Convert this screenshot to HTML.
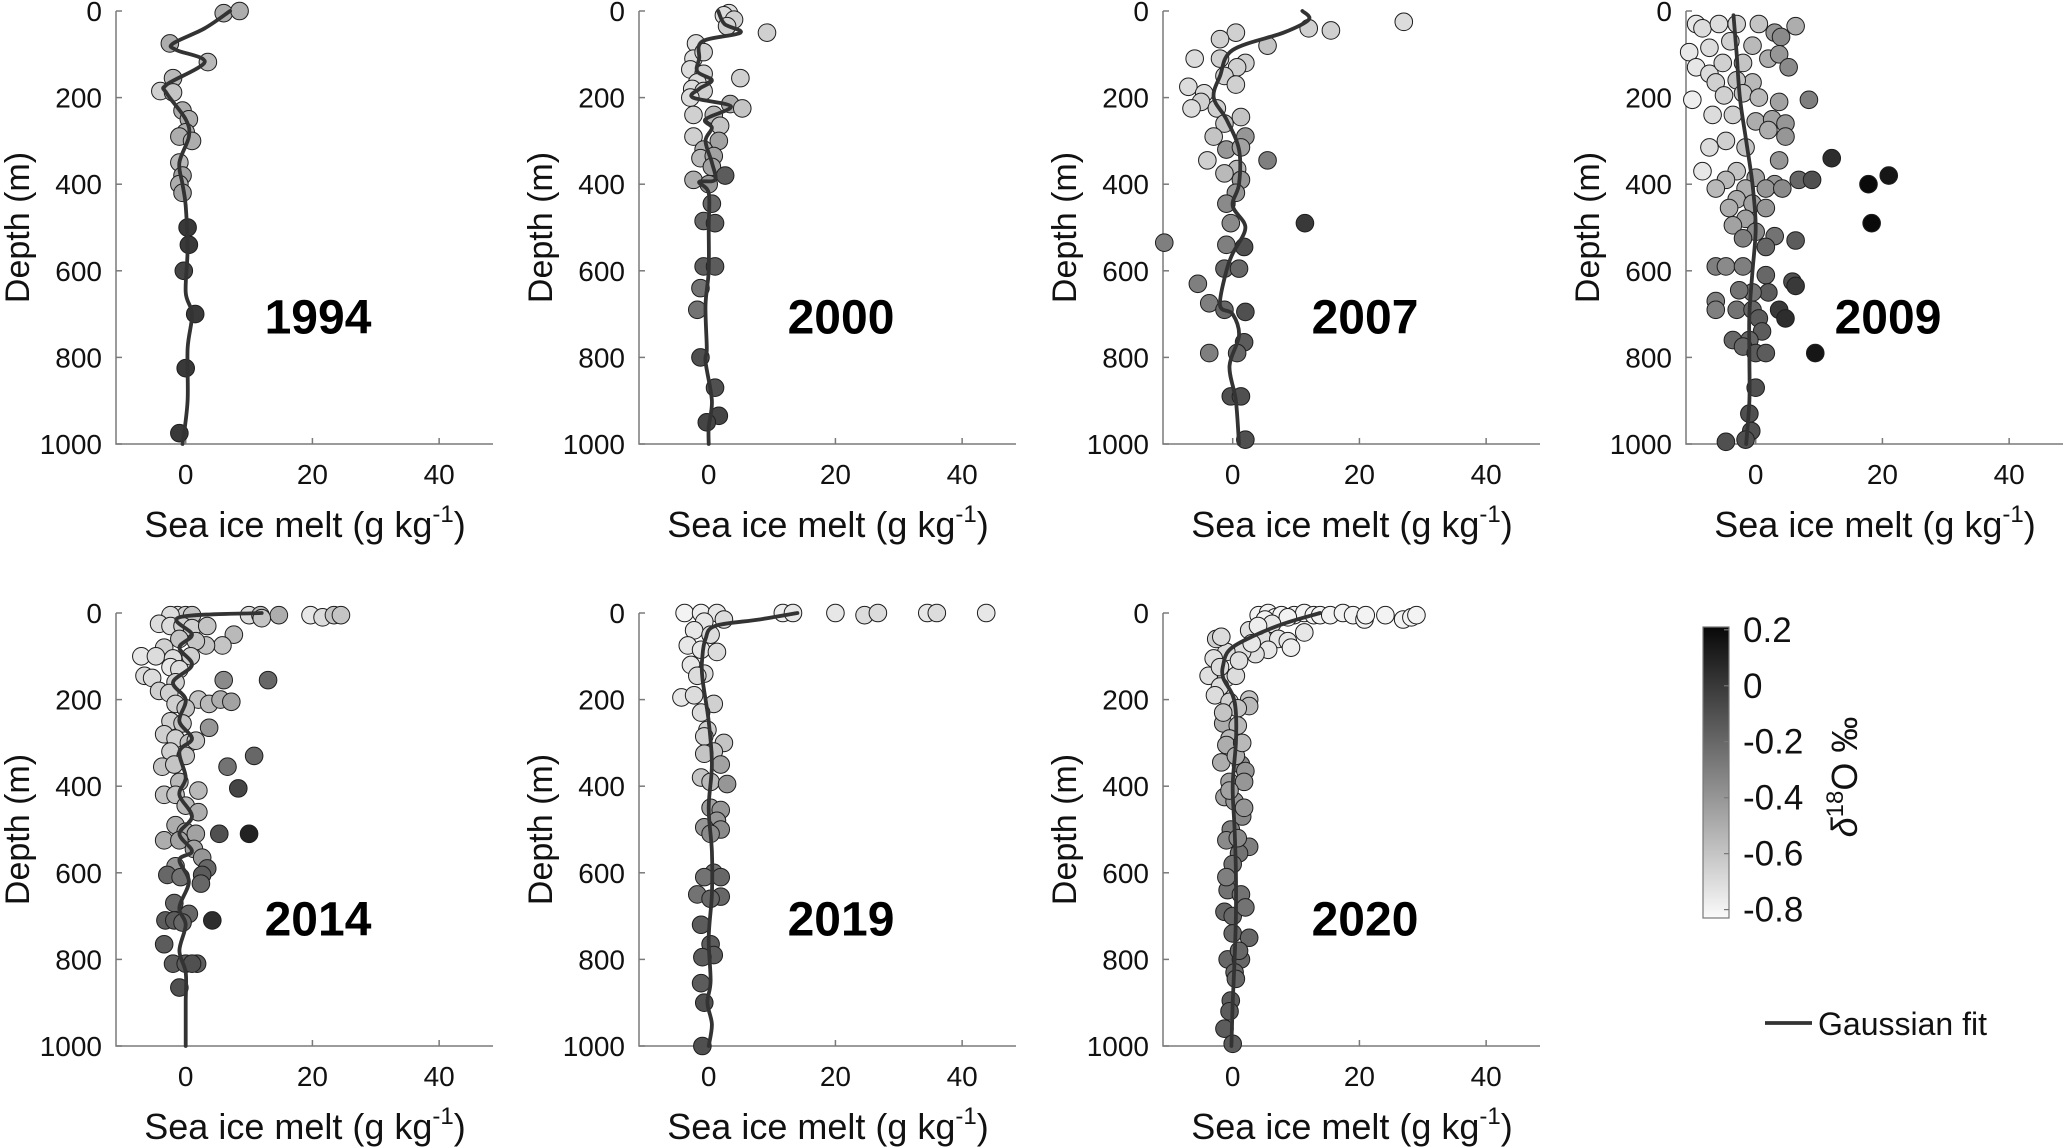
<!DOCTYPE html>
<html><head><meta charset="utf-8"><style>
html,body{margin:0;padding:0;background:#fff}
svg{display:block;font-family:"Liberation Sans",Arial,sans-serif}
</style></head><body>
<svg id="fig" width="2067" height="1147" viewBox="0 0 2067 1147" xmlns="http://www.w3.org/2000/svg"></svg>
<script>
// ---------- data ----------
const years = ["1994","2000","2007","2009","2014","2019","2020"];
const xTicks = [0,20,40];
const yTicks = [0,200,400,600,800,1000];
const cbTicks = [0.2,0,-0.2,-0.4,-0.6,-0.8];
const cbTickLabels = ["0.2","0","-0.2","-0.4","-0.6","-0.8"];

const melt_1994 = [6,8.5,-2.5,3.5,-2,-4,-2,-0.5,0.5,0,-1,1,-1,-0.5,-1,-0.5,0.3,0.5,-0.3,1.5,0,-1];
const depth_1994 = [5,0,75,118,155,185,188,230,250,280,290,300,350,380,400,420,500,540,600,700,825,975];
const d18o_1994 = [-0.5,-0.5,-0.5,-0.55,-0.55,-0.65,-0.6,-0.5,-0.5,-0.5,-0.5,-0.5,-0.55,-0.45,-0.5,-0.45,0,0,-0.05,0,0,0];
const fitMelt_1994 = [7,3,-2,-1.5,3,-3,-3,0,0.5,-1,-0.5,0,0.3,0,1,0.3,0.3,-0.5];
const fitDepth_1994 = [0,40,75,90,118,170,190,250,290,350,400,450,550,650,700,780,900,1000];

const melt_2000 = [3.2,2.4,4,2.9,9.2,-2,-2.4,-0.8,-2.9,-0.8,5,-1.8,-2.6,-0.8,-2.9,3.4,5.3,-2.4,0.8,1.8,-2.4,1.6,-0.8,-1.3,0.8,0.5,2.6,-2.4,0,0.5,-0.8,1,-0.8,1,-1.3,-1.8,-1.3,1,1.6,-0.3];
const depth_2000 = [5,10,20,35,50,75,110,95,135,145,155,165,180,185,200,215,225,240,240,265,290,300,320,340,335,360,380,390,400,445,485,490,590,590,640,690,800,870,935,950];
const d18o_2000 = [-0.7,-0.7,-0.65,-0.65,-0.65,-0.7,-0.7,-0.65,-0.7,-0.65,-0.65,-0.7,-0.7,-0.65,-0.7,-0.5,-0.6,-0.65,-0.55,-0.6,-0.65,-0.45,-0.5,-0.55,-0.45,-0.45,-0.15,-0.5,-0.4,-0.2,-0.2,-0.15,-0.15,-0.15,-0.25,-0.25,-0.1,-0.1,-0.05,-0.05];
const fitMelt_2000 = [1.5,2.5,5,-1,-1.5,-1.8,0.5,-1.5,-2.5,3.5,-0.5,0.5,-0.5,0.5,1,-1.5,0,0,0,-0.5,-0.3,-0.5,0.5,0,0];
const fitDepth_2000 = [0,30,50,70,110,140,160,180,200,220,250,270,300,350,390,395,420,500,600,680,780,810,900,960,1000];

const melt_2007 = [27,12,15.5,0.5,-2,5.5,-6,-2,2,0.7,-1.3,0.5,-7,-4.5,-5,-6.5,-2.5,1.3,-1.3,-3,2,-1,1.3,-4,5.5,0.7,-1.3,1.3,0.5,-1,11.4,-0.3,-10.8,-1,1.8,-1.3,1,-5.5,-3.7,-1.3,2,1.8,0.7,-3.7,-0.3,1.3,2];
const depth_2007 = [25,40,45,50,65,80,110,110,120,130,150,170,175,190,210,225,225,245,260,290,290,320,315,345,345,365,375,390,420,445,490,490,535,540,545,595,595,630,675,690,695,765,790,790,890,890,990];
const d18o_2007 = [-0.7,-0.65,-0.65,-0.65,-0.65,-0.6,-0.7,-0.65,-0.65,-0.65,-0.65,-0.65,-0.7,-0.7,-0.65,-0.7,-0.65,-0.6,-0.6,-0.6,-0.4,-0.4,-0.45,-0.65,-0.3,-0.55,-0.55,-0.4,-0.4,-0.35,0,-0.35,-0.3,-0.3,-0.1,-0.2,-0.2,-0.3,-0.3,-0.2,-0.1,-0.15,-0.2,-0.3,-0.1,-0.1,-0.1];
const fitMelt_2007 = [11,12,8,0,-2,-3,-1,1,1,0,2,0,-1,-2,0,1,-0.5,0.5,1];
const fitDepth_2007 = [0,20,50,90,150,200,250,320,400,450,500,560,600,680,700,750,820,900,1000];

const melt_2009 = [-9.4,-8.4,-5.8,-3,0.5,6.3,3,4,-10.5,-7.3,-4,-0.5,2,3.7,5.2,-9.4,-7.3,-5.2,-2,-0.5,-6.3,-3,-10,-5,-2,0.5,3.7,8.4,-6.8,-3.6,0,2.6,4.7,2,4.7,-4.7,-7.3,-1.6,3.7,12,-8.4,-3,-4.7,0,3,6.8,8.9,21,17.8,18.3,-6.3,-1.6,1.6,4.2,-3,-0.5,-4.2,1.6,-1.6,-3.6,0,3,6.3,-2,1.6,-6.3,-4.7,-2,1.6,5.8,6.3,2,-0.5,-2.6,-6.3,-6.3,-3,-0.5,3.7,4.7,0.5,1,-3.6,-1,-2,0,1.6,9.4,0,-1,-0.7,-1.6,-4.7];
const depth_2009 = [30,40,30,30,30,35,50,60,95,85,70,80,110,100,130,130,145,120,120,165,165,160,205,195,190,200,210,205,240,240,255,250,260,275,290,300,315,315,345,340,370,370,390,385,400,390,390,380,400,490,410,410,410,410,435,445,455,455,480,495,510,520,530,525,545,590,590,590,610,625,635,650,650,645,670,690,690,690,690,710,710,740,760,760,775,790,790,790,870,930,970,990,995];
const d18o_2009 = [-0.75,-0.7,-0.7,-0.65,-0.6,-0.5,-0.4,-0.35,-0.75,-0.7,-0.65,-0.55,-0.5,-0.4,-0.35,-0.75,-0.7,-0.65,-0.6,-0.55,-0.65,-0.6,-0.78,-0.65,-0.6,-0.55,-0.45,-0.3,-0.7,-0.65,-0.5,-0.45,-0.4,-0.5,-0.4,-0.65,-0.7,-0.6,-0.4,0.05,-0.75,-0.6,-0.55,-0.45,-0.4,-0.2,-0.1,0.15,0.2,0.2,-0.55,-0.5,-0.4,-0.35,-0.5,-0.45,-0.5,-0.4,-0.45,-0.45,-0.35,-0.25,-0.15,-0.3,-0.2,-0.3,-0.35,-0.3,-0.2,-0.1,0,-0.15,-0.25,-0.25,-0.3,-0.3,-0.25,-0.2,0,0.05,-0.15,-0.15,-0.2,-0.2,-0.2,-0.15,-0.15,0.15,-0.1,-0.1,-0.1,-0.1,-0.1];
const fitMelt_2009 = [-3.5,-3,-2.5,-1.5,-0.5,0,-0.5,-1,-1,-1,-1.5];
const fitDepth_2009 = [10,100,200,300,400,500,600,700,800,900,1000];

const melt_2014 = [-1.3,0,1,-2.4,10,11.8,14.7,19.7,21.6,23.4,24.5,12,-4.2,-2.4,-0.5,1,3.4,7.6,5.8,3.2,-1,1.6,-3.4,-7,-4.7,-2,0.8,-2.4,-1,-6.5,-5.3,6,13,-1.6,-4.2,-2.6,2,3.7,5.5,7.2,-1.6,0,-2.4,-0.5,3.7,-3.4,-1.6,0.5,1.6,-2.4,0,10.8,-3.7,-1.8,6.6,-1,2,8.3,-3.4,-1.6,0,2,-1.6,0,1.6,5.3,10,-3.4,-1,1.3,2.6,-1.6,3.4,-2.9,-0.8,2.6,2.4,-1.8,0.5,-3.2,-1.8,-0.5,4.2,-3.4,-2,0,1.8,1,-1];
const depth_2014 = [5,5,5,5,5,5,5,5,10,5,5,12,25,30,30,35,30,50,75,75,60,65,80,100,100,105,100,125,130,145,150,155,155,160,180,185,200,210,200,205,210,220,250,255,265,280,290,300,295,320,330,330,355,350,355,390,410,405,420,420,445,460,490,505,510,510,510,525,525,545,565,585,590,605,610,605,625,670,695,710,710,715,710,765,810,810,810,810,865];
const d18o_2014 = [-0.7,-0.65,-0.6,-0.7,-0.7,-0.55,-0.5,-0.75,-0.7,-0.6,-0.6,-0.6,-0.7,-0.7,-0.65,-0.65,-0.6,-0.55,-0.6,-0.6,-0.6,-0.6,-0.65,-0.75,-0.7,-0.7,-0.65,-0.75,-0.7,-0.7,-0.7,-0.35,-0.2,-0.65,-0.65,-0.65,-0.6,-0.55,-0.5,-0.45,-0.65,-0.6,-0.65,-0.6,-0.4,-0.65,-0.65,-0.6,-0.6,-0.65,-0.6,-0.2,-0.6,-0.6,-0.25,-0.55,-0.55,-0.05,-0.6,-0.6,-0.55,-0.5,-0.5,-0.5,-0.45,-0.1,0.1,-0.5,-0.45,-0.45,-0.4,-0.4,-0.2,-0.2,-0.25,-0.15,-0.2,-0.2,-0.2,-0.15,-0.15,-0.2,0.05,-0.15,-0.15,-0.15,-0.15,-0.1,-0.1];
const fitMelt_2014 = [12,-1,1,-1,1,-2,0,-1,1,-1,0,-1,1,-1,1,-1,0.5,-1,0,-1,0,0,0];
const fitDepth_2014 = [0,10,50,80,120,160,200,250,290,320,380,420,470,510,550,570,620,680,720,780,830,900,1000];

const melt_2019 = [-3.8,-1.2,1.3,11.7,13.3,20,24.6,26.7,34.5,36,43.8,2.4,-0.7,-2.3,0.3,-3.3,-1.2,1.3,-2.8,-0.7,-1.8,-4.3,-2.3,0.8,-1.2,-0.2,-0.7,2.4,0.8,-0.7,1.9,-1.2,0.3,2.9,0.3,1.9,1.3,-0.7,1.9,0.3,0.8,1.9,-0.7,-1.8,1.9,0.3,-1.2,0.3,0.8,-1,-1.2,-0.7,-1];
const depth_2019 = [0,0,0,0,0,0,5,0,0,0,0,15,20,40,50,75,85,90,120,140,145,195,190,210,230,270,285,300,320,325,350,380,390,395,450,455,480,495,500,510,600,610,610,650,655,660,720,765,790,795,855,900,1000];
const d18o_2019 = [-0.8,-0.78,-0.75,-0.78,-0.75,-0.75,-0.7,-0.7,-0.75,-0.7,-0.75,-0.7,-0.75,-0.75,-0.7,-0.75,-0.75,-0.7,-0.75,-0.7,-0.7,-0.75,-0.7,-0.65,-0.7,-0.65,-0.65,-0.6,-0.6,-0.6,-0.45,-0.6,-0.55,-0.4,-0.45,-0.4,-0.4,-0.4,-0.35,-0.35,-0.25,-0.2,-0.25,-0.25,-0.2,-0.2,-0.15,-0.15,-0.15,-0.15,-0.15,-0.1,-0.1];
const fitMelt_2019 = [14,8,1,-0.5,-1,-1,0,0.5,0,0.5,0.5,0,0.3,-0.2,0.5,0];
const fitDepth_2019 = [0,15,30,60,100,150,250,350,450,550,650,750,850,900,950,1000];

const melt_2020 = [4.1,5.6,6.7,7.7,9.7,11.3,12.8,13.8,15.4,17.4,19,20.8,21,24.1,26.9,28.2,29,5.1,8.7,2.6,6.2,4.6,7.2,8.7,11.3,9.2,5.6,3.6,1.5,-1,-2.6,-1.8,-3,-3.8,-1,0.5,-2,-2.8,-0.5,2.6,2.6,0.8,-1.5,0.8,-0.5,-1,-1.8,1.3,2,-0.5,1.8,-1.3,0.3,1.5,-0.3,-1,2.6,1,0,-0.8,1.3,-1.3,0,0,2.6,-0.8,1.3,0.3,0.5,-0.3,-0.5,-1.3,0,3,1,-2,4,-1.5,0.5,1.5,-0.5,1.8,0.8,-1,2,1];
const depth_2020 = [5,0,10,5,5,0,5,5,5,0,5,15,5,5,15,10,5,15,10,40,25,55,60,65,45,80,85,95,90,90,60,55,105,145,150,145,170,190,205,200,215,220,255,260,290,305,345,350,365,390,390,425,435,470,500,525,540,555,580,640,650,690,700,740,750,800,800,830,845,895,920,960,995,70,110,125,30,230,330,300,410,450,520,610,680,780];
const d18o_2020 = [-0.8,-0.8,-0.8,-0.8,-0.8,-0.8,-0.8,-0.8,-0.8,-0.8,-0.8,-0.8,-0.8,-0.8,-0.8,-0.8,-0.8,-0.8,-0.8,-0.72,-0.75,-0.72,-0.75,-0.75,-0.75,-0.78,-0.75,-0.72,-0.72,-0.7,-0.65,-0.7,-0.72,-0.72,-0.72,-0.7,-0.7,-0.7,-0.65,-0.6,-0.55,-0.6,-0.5,-0.55,-0.55,-0.5,-0.5,-0.35,-0.4,-0.45,-0.4,-0.45,-0.4,-0.35,-0.3,-0.35,-0.3,-0.25,-0.25,-0.25,-0.25,-0.2,-0.2,-0.2,-0.2,-0.2,-0.2,-0.2,-0.2,-0.15,-0.15,-0.15,-0.15,-0.75,-0.72,-0.7,-0.78,-0.6,-0.5,-0.55,-0.45,-0.4,-0.35,-0.3,-0.25,-0.2];
const fitMelt_2020 = [13.8,8,3,-0.5,-1.5,-1.5,0,0.5,0.5,0,0.3,0.5,0.5,0.3,0,-0.2];
const fitDepth_2020 = [0,25,55,85,120,150,190,230,300,400,500,600,700,800,900,1000];

const panelData = [
  [melt_1994,depth_1994,d18o_1994,fitMelt_1994,fitDepth_1994],
  [melt_2000,depth_2000,d18o_2000,fitMelt_2000,fitDepth_2000],
  [melt_2007,depth_2007,d18o_2007,fitMelt_2007,fitDepth_2007],
  [melt_2009,depth_2009,d18o_2009,fitMelt_2009,fitDepth_2009],
  [melt_2014,depth_2014,d18o_2014,fitMelt_2014,fitDepth_2014],
  [melt_2019,depth_2019,d18o_2019,fitMelt_2019,fitDepth_2019],
  [melt_2020,depth_2020,d18o_2020,fitMelt_2020,fitDepth_2020]
];

// ---------- layout ----------
const NS = "http://www.w3.org/2000/svg";
const svg = document.getElementById("fig");
const colLeft = [116, 639, 1163, 1686];
const rowTop = [11, 613];
const AW = 377, AH = 433;
const XMIN = -11, XMAX = 48.5, CMIN = -0.83, CMAX = 0.21;

function el(tag, attrs, parent, text){
  const e = document.createElementNS(NS, tag);
  for (const k in attrs) e.setAttribute(k, attrs[k]);
  if (text !== undefined) e.textContent = text;
  (parent || svg).appendChild(e);
  return e;
}
function grayOf(v){
  let t = (v - CMIN) / (CMAX - CMIN);
  t = Math.max(0, Math.min(1, t));
  const g = Math.round(250 - t * 242);
  return `rgb(${g},${g},${g})`;
}
function smoothPath(P){
  let d = `M${P[0][0].toFixed(1)},${P[0][1].toFixed(1)}`;
  for (let i = 0; i < P.length - 1; i++){
    const p0 = P[Math.max(0,i-1)], p1 = P[i], p2 = P[i+1], p3 = P[Math.min(P.length-1,i+2)];
    const c1x = p1[0] + (p2[0]-p0[0])/6, c1y = p1[1] + (p2[1]-p0[1])/6;
    const c2x = p2[0] - (p3[0]-p1[0])/6, c2y = p2[1] - (p3[1]-p1[1])/6;
    d += `C${c1x.toFixed(1)},${c1y.toFixed(1)} ${c2x.toFixed(1)},${c2y.toFixed(1)} ${p2[0].toFixed(1)},${p2[1].toFixed(1)}`;
  }
  return d;
}

years.forEach((yr, i) => {
  const L = colLeft[i % 4], T = rowTop[Math.floor(i / 4)];
  const sx = v => L + (v - XMIN) / (XMAX - XMIN) * AW;
  const sy = d => T + d / 1000 * AH;
  const g = el("g", {});
  
  

  const ax = el("path", {d:`M${L},${T}V${T+AH}H${L+AW}`, fill:"none", stroke:"#7a7a7a", "stroke-width":"1.5"}, g);
  
  
  yTicks.forEach(t => {
    el("line", {x1:L, x2:L+6, y1:sy(t), y2:sy(t), stroke:"#7a7a7a", "stroke-width":"1.5"}, g);
    const lb = el("text", {x:L-14, y:sy(t)+10, "text-anchor":"end", "font-size":"28", fill:"#111"}, g, String(t));
    
    
  });
  xTicks.forEach(t => {
    el("line", {x1:sx(t), x2:sx(t), y1:T+AH, y2:T+AH-6, stroke:"#7a7a7a", "stroke-width":"1.5"}, g);
    const lb = el("text", {x:sx(t), y:T+AH+40, "text-anchor":"middle", "font-size":"28", fill:"#111"}, g, String(t));
    
    
  });
  const xl = el("text", {x:L+189, y:T+AH+93, "text-anchor":"middle", "font-size":"36", fill:"#111"}, g);
  
  
  el("tspan", {}, xl, "Sea ice melt (g kg");
  el("tspan", {dy:"-15", "font-size":"24"}, xl, "-1");
  el("tspan", {dy:"15"}, xl, ")");
  const yl = el("text", {x:0, y:0, "text-anchor":"middle", "font-size":"34", fill:"#111",
    transform:`translate(${L-87},${T+AH/2}) rotate(-90)`}, g, "Depth (m)");
  
  

  const [mx, dp, c, fm, fd] = panelData[i];
  mx.forEach((v, k) => {
    const p = el("circle", {cx:sx(v), cy:sy(dp[k]), r:"8.8", fill:grayOf(c[k]), stroke:"#1e1e1e", "stroke-width":"1"}, g);
    
    
  });
  const P = fm.map((v, k) => [sx(v), sy(fd[k])]);
  const fl = el("path", {d:smoothPath(P), fill:"none", stroke:"#333", "stroke-width":"3.8", "stroke-linejoin":"round", "stroke-linecap":"round"}, g);
  
  

  const yt = el("text", {x:L+202, y:T+AH*0.705+17, "text-anchor":"middle", "font-size":"48", "font-weight":"bold", fill:"#000"}, g, yr);
  
  
});

// ---------- colorbar ----------
const CB = {x:1703, y:627, w:26, h:291};
const defs = el("defs", {});
const lg = el("linearGradient", {id:"cbg", x1:"0", y1:"1", x2:"0", y2:"0"}, defs);
el("stop", {offset:"0", "stop-color":grayOf(CMIN)}, lg);
el("stop", {offset:"1", "stop-color":grayOf(CMAX)}, lg);
const cbr = el("rect", {x:CB.x, y:CB.y, width:CB.w, height:CB.h, fill:"url(#cbg)", stroke:"#777", "stroke-width":"1.2"});


const cy = v => CB.y + (CMAX - v) / (CMAX - CMIN) * CB.h;
cbTicks.forEach((t, k) => {
  el("line", {x1:CB.x+CB.w-5, x2:CB.x+CB.w, y1:cy(t), y2:cy(t), stroke:"#777", "stroke-width":"1.2"});
  const lb = el("text", {x:CB.x+40, y:cy(t)+12, "font-size":"35", fill:"#111"}, undefined, cbTickLabels[k]);
  
  
});
const ct = el("text", {x:0, y:0, "text-anchor":"middle", "font-size":"36", fill:"#111", transform:"translate(1857,777) rotate(-90)"});


el("tspan", {"font-style":"italic"}, ct, "δ");
el("tspan", {dy:"-14", "font-size":"24"}, ct, "18");
el("tspan", {dy:"14"}, ct, "O ‰");

// ---------- legend ----------
const lgG = el("g", {});


el("line", {x1:1765, x2:1812, y1:1023, y2:1023, stroke:"#333", "stroke-width":"3.8"}, lgG);
el("text", {x:1818, y:1035, "font-size":"32", fill:"#111"}, lgG, "Gaussian fit");
</script>
</body></html>
